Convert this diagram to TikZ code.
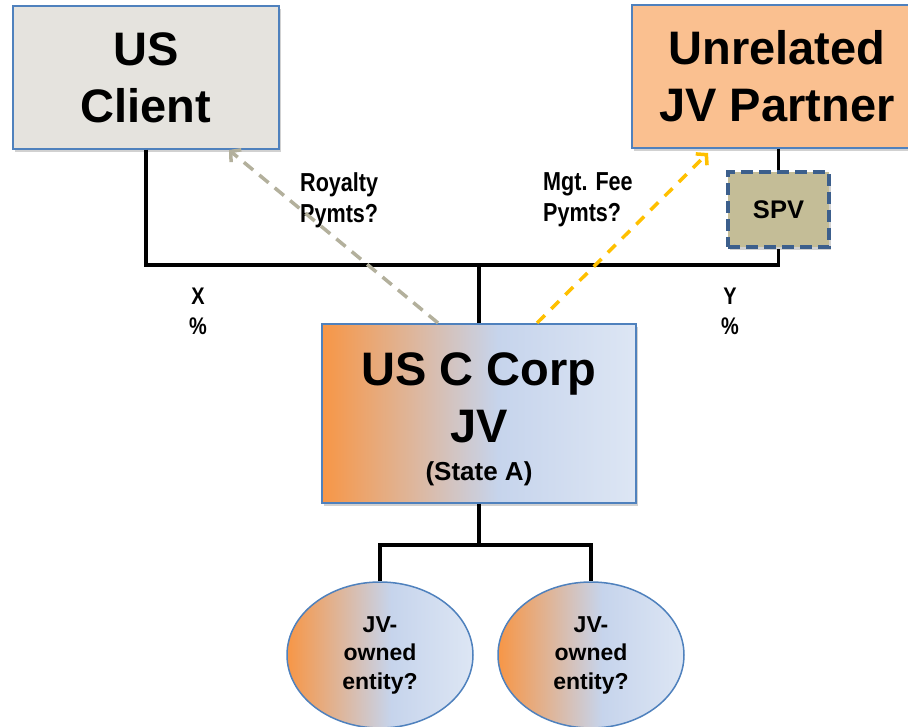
\documentclass[tikz,border=0pt]{standalone}
\usepackage{fontspec}
\setmainfont{Liberation Sans}
\newfontfamily\narrowsans[FakeStretch=0.83]{Liberation Sans}
\usetikzlibrary{arrows.meta,shapes.geometric,shadows,calc}
\definecolor{boxblue}{HTML}{4F81BD}
\definecolor{clientfill}{HTML}{E5E3DE}
\definecolor{partnerfill}{HTML}{FAC090}
\definecolor{spvfill}{HTML}{C4BD97}
\definecolor{spvline}{HTML}{3C5F8C}
\definecolor{royal}{HTML}{B3B09C}
\definecolor{feeyellow}{HTML}{FFC000}
\definecolor{gradorange}{HTML}{F79646}
\definecolor{gradblue}{HTML}{C6D4EC}
\definecolor{gradlight}{HTML}{DDE6F4}
\pgfdeclarehorizontalshading{jvshade}{100bp}{color(0bp)=(gradorange); color(25bp)=(gradorange); color(53bp)=(gradblue); color(75bp)=(gradlight); color(100bp)=(gradlight)}
\begin{document}
\begin{tikzpicture}[x=1pt,y=-1pt,
  box/.style={draw=boxblue, line width=1.5pt, rectangle, inner sep=0pt, align=center,
    font=\bfseries\fontsize{47}{57}\selectfont,
    drop shadow={shadow xshift=2pt,shadow yshift=-3pt,opacity=0.3,fill=black!60}},
  entity/.style={ellipse, draw=boxblue, line width=1.5pt, shade, shading=jvshade,
    minimum width=186pt, minimum height=146pt, inner sep=0pt, align=center,
    font=\bfseries\fontsize{23}{28.5}\selectfont},
  conn/.style={line width=3.5pt, black},
  pay/.style={line width=3.5pt, dash pattern=on 12pt off 8pt,
    -{Straight Barb[length=7pt,width=16pt]}},
  lbl/.style={font=\narrowsans\bfseries\fontsize{26}{31}\selectfont, align=left, inner sep=0pt},
  pct/.style={font=\narrowsans\bfseries\fontsize{24}{30}\selectfont, align=center, inner sep=0pt}
]
\useasboundingbox (0,0) rectangle (908,727);

\node[box, fill=clientfill, minimum width=266pt, minimum height=143pt] (client) at (146,77.5) {US\\Client};
\node[box, fill=partnerfill, minimum width=290pt, minimum height=143pt] (partner) at (777,76.5) {Unrelated\\JV Partner};
\node[draw=spvline, line width=4pt, dash pattern=on 12pt off 6pt, fill=spvfill,
  minimum width=101pt, minimum height=75pt, inner sep=0pt,
  font=\bfseries\fontsize{25.5}{30}\selectfont,
  drop shadow={shadow xshift=2pt,shadow yshift=-3pt,opacity=0.3,fill=black!60}] (spv) at (778.5,209.5) {SPV};
\node[box, shade, shading=jvshade, minimum width=314pt, minimum height=179pt] (jv) at (479,413.5)
  {\rule{0pt}{44pt}US C Corp\\JV\\[-19pt]{\fontsize{26}{39}\selectfont (State A)}};
\node[entity] (e1) at (380,655) {JV-\\owned\\entity?};
\node[entity] (e2) at (591,655) {JV-\\owned\\entity?};

% ownership lines
\coordinate (bar) at (479,265);
\draw[conn] (client.south) |- (bar) -| (spv.south);
\draw[conn] (partner.south -| spv.north) -- (spv.north);
\draw[conn] (bar) -- (jv.north);
\coordinate (bar2) at (479,545);
\draw[conn] (jv.south) -- (bar2);
\draw[conn] (e1.north) |- (bar2) -| (e2.north);

% labels
\node[lbl, anchor=north west] (roy) at (300,172) {Royalty\\Pymts?};
\node[lbl, anchor=north west] (fee) at (543,172) {Mgt. Fee\\Pymts?};
\node[pct, anchor=north] (xp) at (198,288) {X\\\%};
\node[pct, anchor=north] (yp) at (730,288) {Y\\\%};

% payment arrows
\coordinate (royS) at (438,323);
\coordinate (royE) at (229,150);
\draw[pay, royal] (royS) -- (royE);
\coordinate (feeS) at (537,323);
\coordinate (feeE) at (708,153);
\draw[pay, feeyellow, dash pattern=on 11pt off 9pt] (feeS) -- (feeE);
\end{tikzpicture}
\end{document}
